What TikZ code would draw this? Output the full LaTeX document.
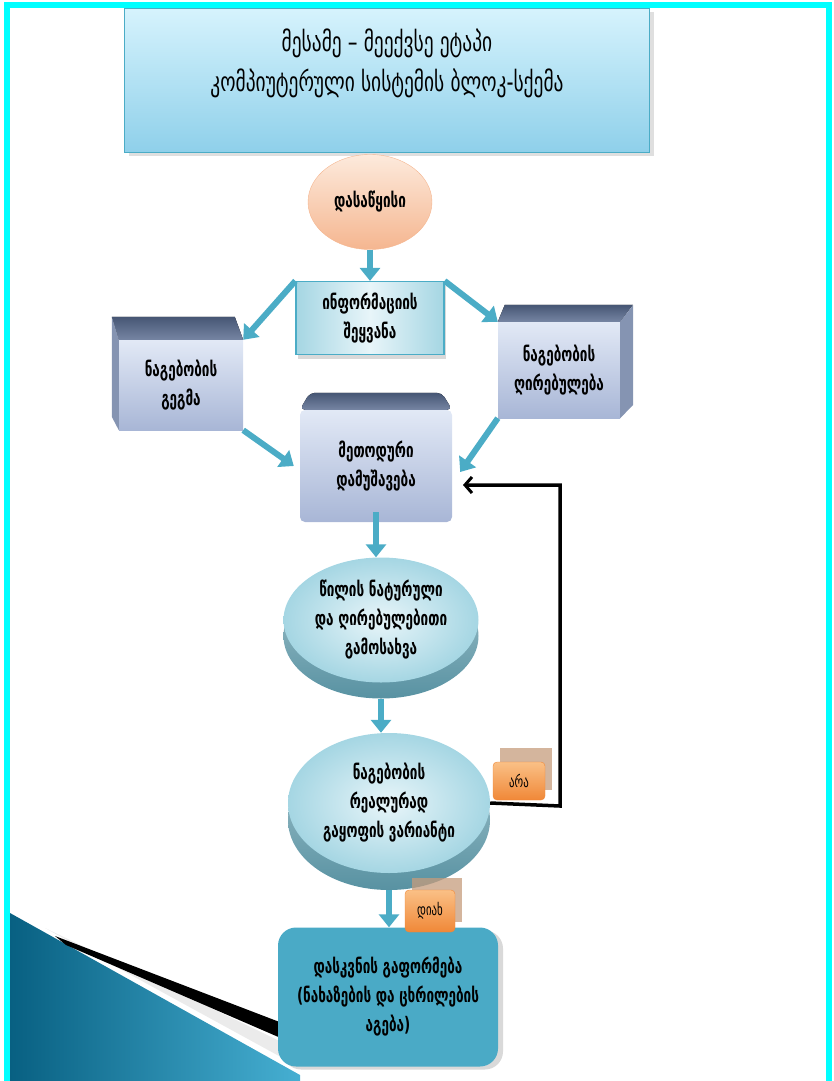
\documentclass[tikz,border=0pt]{standalone}
\usepackage{fontspec}
\setmainfont[FakeStretch=0.75]{DejaVu Sans Condensed}
\newfontfamily\headfont[FakeStretch=0.8]{DejaVu Sans Condensed}
\usepackage{tikz}
\usetikzlibrary{positioning,calc,arrows.meta,shapes.geometric,shadows}
\definecolor{framec}{RGB}{0,255,255}
\definecolor{flowc}{RGB}{75,172,198}
\definecolor{skytop}{RGB}{214,243,253}
\definecolor{skybot}{RGB}{143,208,234}
\definecolor{peach}{RGB}{245,182,144}
\definecolor{peachlt}{RGB}{253,234,220}
\definecolor{slate}{RGB}{70,86,116}
\definecolor{slatelt}{RGB}{118,133,163}
\definecolor{facelt}{RGB}{226,233,246}
\definecolor{facedk}{RGB}{168,182,214}
\definecolor{disklt}{RGB}{232,245,249}
\definecolor{diskdk}{RGB}{165,214,227}
\definecolor{rimc}{RGB}{88,146,162}
\definecolor{tagor}{RGB}{240,136,56}
\definecolor{taglt}{RGB}{250,192,134}
\definecolor{tagtan}{RGB}{198,156,124}
\definecolor{endbox}{RGB}{74,170,198}
\definecolor{deep}{RGB}{8,96,130}
\definecolor{light}{RGB}{70,175,210}

\begin{document}
\begin{tikzpicture}[x=1pt,y=-1pt]
  \tikzset{
    flow/.style={draw=flowc,line width=6pt,-{Triangle[length=13pt,width=20pt]}},
    back/.style={draw=black,line width=3.5pt,-{Straight Barb[length=7pt,width=16pt,line width=3pt]}},
    txt/.style={font=\fontsize{20}{29}\selectfont\bfseries,align=center},
    face/.style={txt,rectangle,inner sep=0pt,top color=facelt,bottom color=facedk},
    lid/.style={top color=slate,bottom color=slatelt},
    side/.style={fill=slatelt!70!facedk},
    disk/.style={txt,ellipse,inner sep=0pt,inner color=disklt,outer color=diskdk},
    rimdisk/.style={ellipse,inner sep=0pt,top color=rimc!55!white,bottom color=rimc},
    tag/.style={rectangle,rounded corners=4pt,draw=tagor,top color=taglt,bottom color=tagor,
                font=\fontsize{16}{18}\selectfont,inner sep=0pt},
    tagback/.style={rectangle,fill=tagtan,opacity=.75,inner sep=0pt},
  }
  \useasboundingbox (0,0) rectangle (833,1081);
  % ---- corner decoration ----
  \shade[left color=deep,right color=light] (10,913) -- (300,1075) -- (300,1081) -- (10,1081) -- cycle;
  \fill[black!8] (45,928) -- (290,1046) -- (290,1062) -- cycle;
  \fill[black] (55,936) -- (290,1026) -- (290,1042) -- (66,945) -- cycle;
  % ---- title ----
  \node[rectangle,draw=flowc,top color=skytop,bottom color=skybot,minimum width=525,minimum height=144,
        drop shadow={shadow xshift=4pt,shadow yshift=-4pt,opacity=.25}] (head) at (387,80) {};
  \node[font=\headfont\fontsize{27}{40}\selectfont,align=center] (headtxt) at (387,63)
       {მესამე – მეექვსე ეტაპი\\კომპიუტერული სისტემის ბლოკ-სქემა};
  % ---- start ----
  \node[txt,ellipse,draw=peach,inner sep=0pt,top color=peachlt,bottom color=peach,
        minimum width=124,minimum height=95] (start) at (370,202) {დასაწყისი};
  % ---- input ----
  \node[txt,rectangle,draw=flowc,line width=1.2pt,inner sep=0pt,left color=diskdk,right color=diskdk,
        middle color=disklt,minimum width=148,minimum height=73,
        drop shadow={shadow xshift=2pt,shadow yshift=-4pt,opacity=.3}] (info) at (370,318)
       {ინფორმაციის\\შეყვანა};
  % ---- plan / cost / method ----
  \node[face,minimum width=124,minimum height=90] (gegma) at (181,385) {ნაგებობის\\გეგმა};
  \fill[lid] (gegma.north west) -- ++(-7,-23) -- ++(123,0) -- (gegma.north east) -- cycle;
  \fill[side] (gegma.north west) -- ++(-7,-23) -- ++(0,100) -- (gegma.south west) -- cycle;
  \node[face,minimum width=122,minimum height=96] (ghir) at (559,370) {ნაგებობის\\ღირებულება};
  \fill[lid] (ghir.north west) -- ++(7,-17) -- ++(128,0) -- (ghir.north east) -- cycle;
  \fill[side] (ghir.north east) -- ++(13,-17) -- ++(0,100) -- (ghir.south east) -- cycle;
  \node[face,rounded corners=5pt,minimum width=152,minimum height=112] (method) at (376,466)
       {მეთოდური\\დამუშავება};
  \fill[lid,rounded corners=5pt] (method.north west) -- ++(10,-17) -- ++(132,0) -- (method.north east) -- cycle;
  % ---- disks ----
  \node[rimdisk,minimum width=195,minimum height=125] (e1r) at (381,636) {};
  \node[disk,minimum width=195,minimum height=125] (e1) at (381,620)
       {წილის ნატურული\\და ღირებულებითი\\გამოსახვა};
  \node[rimdisk,minimum width=202,minimum height=140] (e2r) at (389,820) {};
  \node[disk,minimum width=202,minimum height=140] (e2) at (389,803)
       {ნაგებობის\\რეალურად\\გაყოფის ვარიანტი};
  % ---- result ----
  \node[txt,rectangle,rounded corners=18pt,fill=endbox,minimum width=220,minimum height=139,
        drop shadow={shadow xshift=5pt,shadow yshift=-3pt,opacity=.3}] (final) at (388,997)
       {დასკვნის გაფორმება\\(ნახაზების და ცხრილების\\აგება)};
  % ---- connectors ----
  \draw[flow] (start.south) -- (info.north);
  \draw[flow] (info.north west) -- (gegma.north east);
  \draw[flow] (info.north east) -- (ghir.north west);
  \draw[flow] (gegma.south east) -- ([xshift=-6pt]method.west);
  \draw[flow] (ghir.south west) -- ([xshift=8pt,yshift=-6pt]method.east);
  \draw[flow] ([yshift=10pt]method.south) -- (method.south |- e1.north);
  \draw[flow] (e1r.south) -- (e1r.south |- e2.north);
  \draw[flow] (e2r.south) -- (e2r.south |- final.north);
  \coordinate (turn) at (560,806);
  \coordinate (ret) at (463,485);
  \draw[back] (e2.east) -- (turn) |- (ret);
  % ---- answers ----
  \node[tagback,minimum width=52,minimum height=42] (nob) at (526,769) {};
  \node[tag,minimum width=52,minimum height=38] (no) at (519,781) {არა};
  \node[tagback,minimum width=50,minimum height=44] (yesb) at (437,900) {};
  \node[tag,minimum width=50,minimum height=42] (yes) at (430,911) {დიახ};
  % ---- frame ----
  \draw[framec,line width=6pt] (7,1081) -- (7,5) -- (829,5) -- (829,1081);
\end{tikzpicture}
\end{document}
